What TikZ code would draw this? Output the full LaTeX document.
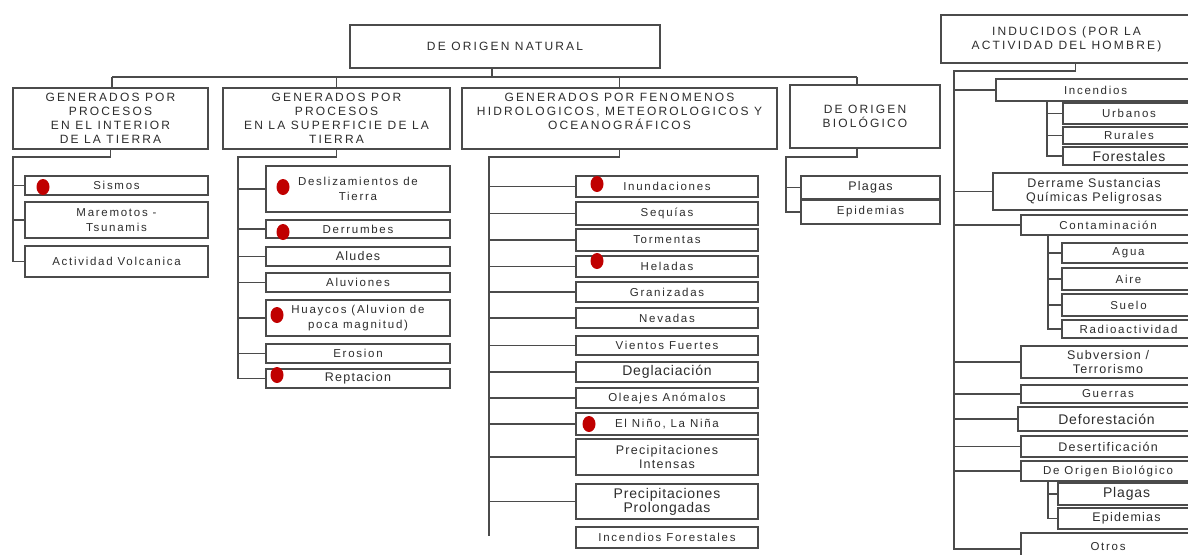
\documentclass[tikz,border=0pt]{standalone}
\usepackage{fontspec}
\setmainfont{Liberation Sans}
\newfontfamily\fcat[LetterSpace=18]{Liberation Sans}
\newfontfamily\fitem[LetterSpace=15]{Liberation Sans}
\newfontfamily\fmed[LetterSpace=10]{Liberation Sans}
\newfontfamily\fbig[LetterSpace=6]{Liberation Sans}
\usetikzlibrary{shapes.geometric}
\definecolor{dotred}{RGB}{192,0,0}
\definecolor{ln}{RGB}{75,75,75}
\definecolor{tx}{RGB}{45,45,45}
\newcommand\bx[7][]{%
  \pgfmathsetmacro\bw{#5-#3}\pgfmathsetmacro\bh{#6-#4}%
  \node[box,#1,minimum width=\bw pt,minimum height=\bh pt] (#2) at ({(#3+#5)/2},{(#4+#6)/2}) {#7};}
\tikzset{
  box/.style={draw=ln, line width=1.1pt, fill=white, inner sep=1pt, outer sep=0pt, align=center, text=tx,
    font=\fitem\fontsize{11.5}{15}\selectfont},
  cat/.style={font=\fcat\fontsize{12}{14}\selectfont},
  med/.style={font=\fmed\fontsize{12.5}{14}\selectfont},
  big/.style={font=\fbig\fontsize{14}{13}\selectfont},
  link/.style={draw=ln, line width=1.1pt},
  dot/.style={ellipse, fill=dotred, inner sep=0pt, minimum width=13pt, minimum height=16pt}
}
\begin{document}
\begin{tikzpicture}[x=1pt,y=-1pt]
\clip (0,0) rectangle (1188,554);
\fill[white] (0,0) rectangle (1188,554);
% ---------- natural ----------
\bx[cat]{top}{350}{25}{660}{68}{\raisebox{-4pt}{DE ORIGEN NATURAL}}
\bx[cat]{c1}{13}{88}{208}{149}{GENERADOS POR\\PROCESOS\\EN EL INTERIOR\\DE LA TIERRA}
\bx[cat]{c2}{223}{88}{450}{149}{GENERADOS POR\\PROCESOS\\EN LA SUPERFICIE DE LA\\TIERRA}
\bx[cat]{c3}{462}{88}{777}{149}{GENERADOS POR FENOMENOS\\HIDROLOGICOS, METEOROLOGICOS Y\\OCEANOGRÁFICOS\\\mbox{}}
\bx[cat]{c4}{790}{85}{940}{148}{DE ORIGEN\\BIOLÓGICO}
\coordinate (bl) at (112,77);
\coordinate (br) at (857,77);
\draw[link] (bl) -- (br);
\draw[link] ([xshift=-13pt]top.south) -- ++(0,9);
\draw[link] (bl) -- (bl |- c1.north);
\draw[link] (c2.north) -- (c2.north |- bl);
\draw[link] (c3.north) -- (c3.north |- bl);
\draw[link] (br) -- (br |- c4.north);
% group 1
\bx{s1a}{25}{176}{208}{195}{Sismos}
\bx{s1b}{25}{202}{208}{238}{Maremotos -\\Tsunamis}
\bx{s1c}{25}{246}{208}{277}{Actividad Volcanica}
\coordinate (j1) at (13,157);
\draw[link] (c1.south) |- (j1) |- (s1c.west);
\foreach \n in {s1a,s1b}{\draw[link] (j1 |- \n.west) -- (\n.west);}
% group 2
\bx{s2a}{266}{166}{450}{212}{Deslizamientos de\\Tierra}
\bx{s2b}{266}{220}{450}{238}{Derrumbes}
\bx[med]{s2c}{266}{247}{450}{266}{Aludes}
\bx{s2d}{266}{273}{450}{292}{Aluviones}
\bx{s2e}{266}{300}{450}{336}{Huaycos (Aluvion de\\poca magnitud)}
\bx{s2f}{266}{344}{450}{363}{Erosion}
\bx[med]{s2g}{266}{369}{450}{388}{Reptacion}
\coordinate (j2) at (238,157);
\draw[link] (c2.south) |- (j2) |- (s2g.west);
\foreach \n in {s2a,s2b,s2c,s2d,s2e,s2f}{\draw[link] (j2 |- \n.west) -- (\n.west);}
% group 3
\bx{s3a}{576}{176}{758}{197}{Inundaciones}
\bx{s3b}{576}{202}{758}{225}{Sequías}
\bx{s3c}{576}{229}{758}{251}{Tormentas}
\bx{s3d}{576}{256}{758}{277}{Heladas}
\bx{s3e}{576}{282}{758}{302}{Granizadas}
\bx{s3f}{576}{308}{758}{328}{Nevadas}
\bx{s3g}{576}{336}{758}{355}{Vientos Fuertes}
\bx[big]{s3h}{576}{362}{758}{382}{Deglaciación}
\bx{s3i}{576}{388}{758}{408}{Oleajes Anómalos}
\bx{s3j}{576}{413}{758}{435}{El Niño, La Niña}
\bx[med]{s3k}{576}{439}{758}{475}{Precipitaciones\\Intensas}
\bx[big]{s3l}{576}{484}{758}{519}{Precipitaciones\\Prolongadas}
\bx{s3m}{576}{527}{758}{548}{Incendios Forestales}
\coordinate (j3) at (489,157);
\coordinate (e3) at (489,536);
\draw[link] (c3.south) |- (j3) -- (e3);
\foreach \n in {s3a,s3b,s3c,s3d,s3e,s3f,s3g,s3h,s3i,s3j,s3k,s3l}{\draw[link] (j3 |- \n.west) -- (\n.west);}
% group 4
\bx[med]{s4a}{801}{176}{940}{199}{Plagas}
\bx{s4b}{801}{200}{940}{224}{Epidemias}
\coordinate (j4) at (786,157);
\draw[link] ([xshift=-8pt]c4.south) |- (j4) |- (s4b.west);
\draw[link] (j4 |- s4a.west) -- (s4a.west);
% dots
\node[dot] (d1) at (43,187) {};
\node[dot] (d2) at (283,187) {};
\node[dot] (d3) at (283,232) {};
\node[dot] (d4) at (277,315) {};
\node[dot] (d5) at (277,375) {};
\node[dot] (d6) at (597,184) {};
\node[dot] (d7) at (597,261) {};
\node[dot] (d8) at (589,424) {};
% ---------- inducidos ----------
\bx[cat]{ind}{941}{15}{1192}{63}{INDUCIDOS (POR LA\\ACTIVIDAD DEL HOMBRE)}
\bx{r1}{996}{79}{1195}{101}{Incendios}
\bx{r1a}{1063}{103}{1195}{124}{Urbanos}
\bx{r1b}{1063}{127}{1195}{144}{Rurales}
\bx[big]{r1c}{1063}{147}{1195}{165}{Forestales}
\bx[med]{r2}{993}{173}{1195}{210}{Derrame Sustancias\\Químicas Peligrosas}
\bx{r3}{1021}{215}{1195}{235}{Contaminación}
\bx{r3a}{1062}{243}{1195}{263}{Agua}
\bx{r3b}{1062}{268}{1195}{290}{Aire}
\bx{r3c}{1062}{294}{1195}{316}{Suelo}
\bx{r3d}{1062}{320}{1195}{338}{Radioactividad}
\bx[med]{r4}{1021}{346}{1195}{378}{Subversion /\\Terrorismo}
\bx{r5}{1021}{385}{1195}{403}{Guerras}
\bx[big]{r6}{1018}{407}{1195}{431}{Deforestación}
\bx[med]{r7}{1021}{436}{1195}{457}{Desertificación}
\bx{r8}{1021}{461}{1195}{481}{De Origen Biológico}
\bx[big]{r8a}{1058}{483}{1195}{505}{Plagas}
\bx[med]{r8b}{1058}{508}{1195}{529}{Epidemias}
\bx{r9}{1021}{533}{1195}{565}{\raisebox{5pt}{Otros}}
\coordinate (j5) at (954,71);
\draw[link] ([xshift=9pt]ind.south) |- (j5) |- (r9.west);
\foreach \n in {r1,r2,r3,r4,r5,r6,r7,r8}{\draw[link] (j5 |- \n.west) -- (\n.west);}
\coordinate (k1) at (1047,101);
\draw[link] (k1) |- (r1c.west);
\foreach \n in {r1a,r1b}{\draw[link] (k1 |- \n.west) -- (\n.west);}
\coordinate (k3) at (1048,235);
\draw[link] (k3) |- (r3d.west);
\foreach \n in {r3a,r3b,r3c}{\draw[link] (k3 |- \n.west) -- (\n.west);}
\coordinate (k8) at (1048,481);
\draw[link] (k8) |- (r8b.west);
\draw[link] (k8 |- r8a.west) -- (r8a.west);
\end{tikzpicture}
\end{document}
